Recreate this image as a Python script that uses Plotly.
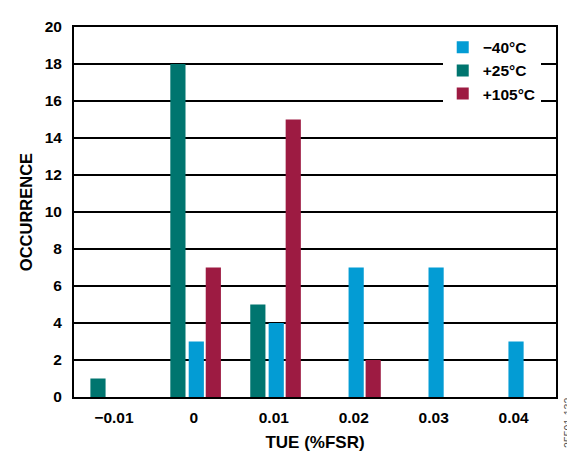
import plotly.graph_objects as go

categories = ["\u22120.01", "0", "0.01", "0.02", "0.03", "0.04"]
series_names = ["\u221240\u00b0C", "+25\u00b0C", "+105\u00b0C"]
vals_m40 = [0, 3, 4, 7, 7, 3]
vals_25 = [1, 18, 5, 0, 0, 0]
vals_105 = [0, 7, 15, 2, 0, 0]
y_ticks = [0, 2, 4, 6, 8, 10, 12, 14, 16, 18, 20]

colors = {"m40": "#039CD4", "25": "#00756F", "105": "#9D1B42"}
FONT = "Liberation Sans, Arial, sans-serif"

fig = go.Figure()
fig.add_trace(go.Bar(name=series_names[0], x=categories, y=vals_m40,
                     marker=dict(color=colors["m40"], line=dict(width=0)),
                     width=0.19, offset=-0.065))
fig.add_trace(go.Bar(name=series_names[1], x=categories, y=vals_25,
                     marker=dict(color=colors["25"], line=dict(width=0)),
                     width=0.19, offset=-0.295))
fig.add_trace(go.Bar(name=series_names[2], x=categories, y=vals_105,
                     marker=dict(color=colors["105"], line=dict(width=0)),
                     width=0.19, offset=0.148))

fig.update_layout(
    width=575, height=451,
    margin=dict(l=66, r=27, t=10, b=57, pad=0),
    barmode="overlay",
    plot_bgcolor="white", paper_bgcolor="white",
    font=dict(family=FONT, size=15, color="black", weight=700),
    legend=dict(x=0.765, y=0.99, xanchor="left", yanchor="top",
                bgcolor="white", borderwidth=0,
                font=dict(family=FONT, size=15.5, color="black", weight=700),
                tracegroupgap=0, itemwidth=30),
    xaxis=dict(type="category", categoryorder="array", categoryarray=categories,
               range=[-0.5, 5.53],
               showline=True, linecolor="black", linewidth=2, mirror=True,
               showgrid=False, ticks="", ticklabelstandoff=5,
               tickfont=dict(family=FONT, size=15.5, weight=700),
               title=dict(text="TUE (%FSR)", standoff=12,
                          font=dict(family=FONT, size=17, weight=700))),
    yaxis=dict(range=[0, 20], tickvals=y_ticks,
               showline=True, linecolor="black", linewidth=2, mirror=True,
               showgrid=True, gridcolor="black", gridwidth=2,
               zeroline=False, ticks="", ticklabelstandoff=7,
               tickfont=dict(family=FONT, size=15.5, weight=700),
               title=dict(text="OCCURRENCE", standoff=8,
                          font=dict(family=FONT, size=16.5, weight=700))),
)

fig.add_annotation(text="25501-132", xref="paper", yref="paper",
                   x=1.025, y=-0.07, xanchor="center", yanchor="middle",
                   textangle=-90, showarrow=False,
                   font=dict(family=FONT, size=10.5, color="#555555", weight=400))

fig.write_html("out.html")
